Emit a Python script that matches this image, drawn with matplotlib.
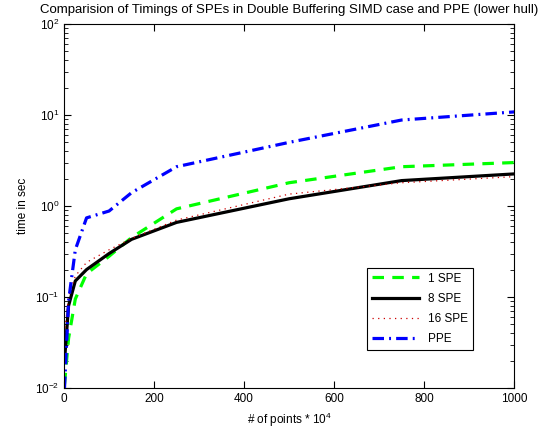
import matplotlib
matplotlib.use("Agg")
import matplotlib.pyplot as plt

plt.rcParams['font.family'] = ['Liberation Sans', 'DejaVu Sans']
plt.rcParams['mathtext.default'] = 'regular'

# number of points (* 10^4)
x = [1, 10, 25, 50, 100, 150, 250, 500, 750, 1000]

# time in sec
spe1 = [0.011, 0.035, 0.095, 0.18, 0.28, 0.45, 0.93, 1.8, 2.7, 3.0]
spe8 = [0.02, 0.08, 0.15, 0.2, 0.3, 0.43, 0.66, 1.2, 1.9, 2.25]
spe16 = [0.04, 0.1, 0.17, 0.24, 0.33, 0.44, 0.7, 1.35, 1.8, 2.1]
ppe = [0.01, 0.09, 0.33, 0.74, 0.88, 1.4, 2.7, 5.0, 8.8, 10.8]

fig = plt.figure(figsize=(5.57, 4.28), dpi=100)
ax = fig.add_axes([0.115, 0.0935, 0.808, 0.8505])

ax.plot(x, spe1, color=(0, 1, 0), linestyle=(0, (3.6, 2.6)), linewidth=2.3, label='1 SPE')
ax.plot(x, spe8, color='black', linestyle='-', linewidth=2.3, label='8 SPE')
ax.plot(x, spe16, color=(0.8, 0, 0), linestyle=(0, (1, 3.5)), linewidth=0.9, label='16 SPE')
ax.plot(x, ppe, color=(0, 0, 1), linestyle=(0, (3.6, 1.6, 0.6, 1.6)), linewidth=2.3, label='PPE')

ax.set_yscale('log')
ax.set_xlim(0, 1000)
ax.set_ylim(1e-2, 1e2)
ax.set_xticks([0, 200, 400, 600, 800, 1000])
ax.tick_params(which='both', direction='in', top=True, right=True, labelsize=8.5)
ax.tick_params(which='major', length=5)
ax.tick_params(which='minor', length=3)

ax.set_xlabel('# of points * $10^4$', fontsize=8.5)
ax.set_ylabel('time in sec', fontsize=8.5)
ax.set_title('Comparision of Timings of SPEs in Double Buffering SIMD case and PPE (lower hull)',
             fontsize=9.5, pad=8)

leg = ax.legend(loc='lower left', bbox_to_anchor=(0.673, 0.104), fontsize=8.5,
                handlelength=4, labelspacing=0.7, fancybox=False, framealpha=1,
                edgecolor='black', borderaxespad=0)
leg.get_frame().set_linewidth(0.8)

fig.savefig('out.png', dpi=100)
